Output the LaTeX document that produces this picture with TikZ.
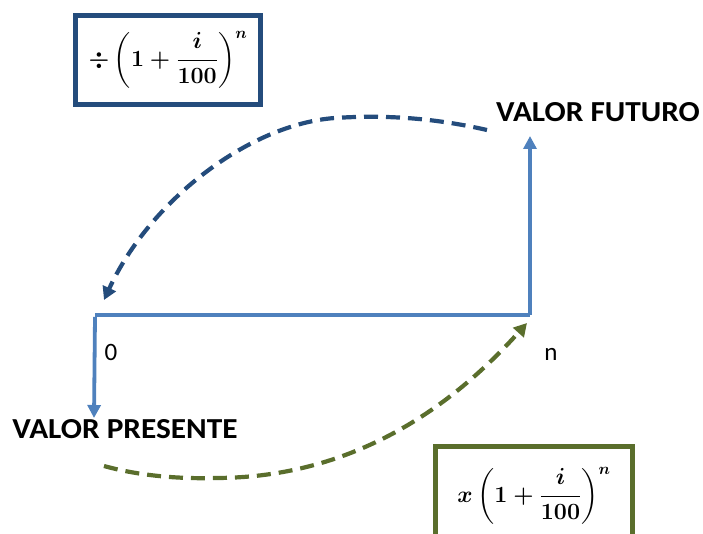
\documentclass[tikz,border=0pt]{standalone}
\usepackage{fontspec}
\setmainfont{Carlito}
\usepackage{amsmath}
\usetikzlibrary{arrows.meta}
\definecolor{axisblue}{HTML}{4F81BD}
\definecolor{darkblue}{HTML}{244C7C}
\definecolor{olive}{HTML}{5A6E2C}
\begin{document}
\begin{tikzpicture}[x=1pt,y=-1pt,
  axis/.style={draw=axisblue,line width=3.8pt},
  axisarrow/.style={axis,-{Triangle[length=13pt,width=13pt]}},
  dashblue/.style={draw=darkblue,line width=4.2pt,dash pattern=on 14pt off 8pt,-{Triangle[length=13pt,width=14pt]}},
  dashgreen/.style={draw=olive,line width=4.2pt,dash pattern=on 14pt off 8pt,-{Triangle[length=13pt,width=14pt]}},
  lbl/.style={font=\fontsize{29}{32}\selectfont\bfseries,inner sep=0pt},
  tick/.style={font=\fontsize{25}{28}\selectfont,inner sep=0pt},
  formbox/.style={line width=5pt,minimum width=185pt,minimum height=89pt,inner sep=0pt,font=\fontsize{22}{26}\selectfont\boldmath}
]
\useasboundingbox (0,0) rectangle (703,534);
\coordinate (O) at (95,315);
\coordinate (N) at (530,315);
\coordinate (FVtip) at (530,136);
\coordinate (PVtip) at (94,418);
\draw[axis] (O) -- (N);
\draw[axisarrow] (N) -- (FVtip);
\draw[axisarrow] ([yshift=-1.8pt]O) -- (PVtip);
\node[tick] (zero) at (111,352) {0};
\node[tick] (n) at (551,354) {n};
\node[lbl,anchor=base] (fv) at (598,122) {\scalebox{1.08}[1]{VALOR FUTURO}};
\node[lbl,anchor=base] (pv) at (125,438) {\scalebox{1.08}[1]{VALOR PRESENTE}};
\node[formbox,draw=darkblue] (bluebox) at (168,60) {\scalebox{1.12}{$\div\left(1+\dfrac{i}{100}\right)^{n}$}};
\node[formbox,draw=olive,minimum width=197pt,minimum height=100pt] (greenbox) at (534,496) {\raisebox{6pt}{\scalebox{1.12}{$x\left(1+\dfrac{i}{100}\right)^{n}$}}};
\coordinate (b1) at (487,130);
\coordinate (bm) at (335,118);
\coordinate (b2) at (104,300);
\draw[dashblue] (b1) .. controls (430,117) and (380,115) .. (bm) .. controls (250,124) and (150,200) .. (b2);
\coordinate (g1) at (104,466);
\coordinate (gm) at (215,478);
\coordinate (g2) at (527,323);
\draw[dashgreen] (g1) .. controls (140,476) and (180,479) .. (gm) .. controls (340,478) and (440,420) .. (g2);
\end{tikzpicture}
\end{document}
